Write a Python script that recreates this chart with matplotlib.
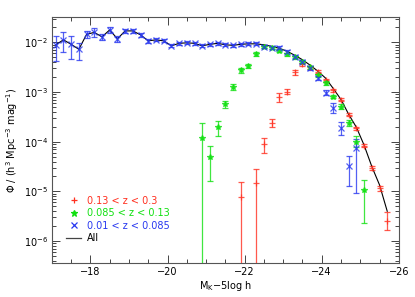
import matplotlib.pyplot as plt
from matplotlib.lines import Line2D
import numpy as np

# bin centres in M_K - 5 log h
mag_blue = np.round(np.arange(-17.1, -24.95, -0.2), 1)
mag_green = np.round(np.arange(-20.9, -25.15, -0.2), 1)
mag_red = [-21.9, -22.3, -22.5, -22.7, -22.9, -23.1, -23.3, -23.5, -23.7,
           -23.9, -24.1, -24.3, -24.5, -24.7, -24.9, -25.1, -25.3, -25.5, -25.7]

# log10(Phi) and errors (dex, up / down)
blue_log = [-2.05, -1.95, -2.04, -2.14, -1.84, -1.80, -1.89, -1.75, -1.93, -1.77,
            -1.77, -1.85, -1.97, -1.95, -1.97, -2.07, -2.02, -2.01, -2.02, -2.07,
            -2.04, -2.02, -2.05, -2.06, -2.04, -2.03, -2.03, -2.09, -2.11, -2.11,
            -2.19, -2.29, -2.39, -2.52, -2.72, -3.01, -3.32, -3.73, -4.49, -4.12]
blue_up = [0.18, 0.16, 0.17, 0.13, 0.07, 0.08, 0.06, 0.06, 0.06, 0.04,
           0.04, 0.04, 0.04, 0.03, 0.03, 0.03, 0.03, 0.03, 0.03, 0.03,
           0.03, 0.03, 0.03, 0.03, 0.03, 0.03, 0.03, 0.03, 0.03, 0.03,
           0.03, 0.03, 0.03, 0.04, 0.04, 0.05, 0.10, 0.13, 0.20, 0.17]
blue_dn = [0.32, 0.24, 0.30, 0.22, 0.08, 0.09, 0.06, 0.06, 0.06, 0.04,
           0.04, 0.04, 0.04, 0.03, 0.03, 0.03, 0.03, 0.03, 0.03, 0.03,
           0.03, 0.03, 0.03, 0.03, 0.03, 0.03, 0.03, 0.03, 0.03, 0.03,
           0.03, 0.03, 0.03, 0.04, 0.04, 0.05, 0.10, 0.14, 0.41, 0.91]

green_log = [-3.93, -4.31, -3.71, -3.25, -2.89, -2.56, -2.47, -2.24, -2.09, -2.11,
             -2.17, -2.24, -2.30, -2.39, -2.50, -2.66, -2.82, -3.09, -3.30, -3.63,
             -4.00, -4.97]
green_up = [0.30, 0.22, 0.13, 0.07, 0.06, 0.05, 0.04, 0.04, 0.03, 0.03,
            0.03, 0.03, 0.03, 0.03, 0.03, 0.03, 0.04, 0.04, 0.05, 0.06,
            0.11, 0.21]
green_dn = [3.0, 0.49, 0.17, 0.07, 0.06, 0.05, 0.04, 0.04, 0.03, 0.03,
            0.03, 0.03, 0.03, 0.03, 0.03, 0.03, 0.04, 0.04, 0.05, 0.06,
            0.10, 0.67]

red_log = [-5.12, -4.83, -4.05, -3.63, -3.11, -2.99, -2.60, -2.44, -2.50,
           -2.59, -2.76, -2.96, -3.16, -3.46, -3.73, -4.08, -4.53, -4.94, -5.59]
red_up = [0.30, 0.29, 0.12, 0.08, 0.10, 0.05, 0.05, 0.03, 0.03,
          0.03, 0.03, 0.03, 0.03, 0.03, 0.03, 0.03, 0.04, 0.05, 0.18]
red_dn = [3.0, 3.0, 0.18, 0.08, 0.10, 0.05, 0.05, 0.03, 0.03,
          0.03, 0.03, 0.03, 0.03, 0.03, 0.03, 0.03, 0.04, 0.05, 0.19]

mag_all = np.round(np.arange(-17.1, -25.75, -0.2), 1)
all_log = [-2.05, -1.95, -2.04, -2.14, -1.84, -1.80, -1.89, -1.75, -1.93, -1.77,
           -1.77, -1.85, -1.97, -1.95, -1.97, -2.07, -2.02, -2.01, -2.02, -2.07,
           -2.04, -2.02, -2.05, -2.06, -2.04, -2.03, -2.03, -2.05, -2.08, -2.12,
           -2.18, -2.26, -2.35, -2.46, -2.58, -2.72, -2.93, -3.15, -3.45, -3.71,
           -4.07, -4.50, -4.87, -5.40]

labels = ['0.13 < z < 0.3', '0.085 < z < 0.13', '0.01 < z < 0.085', 'All']
series = [
    (mag_red, red_log, red_up, red_dn, '#ff3020', '+'),
    (mag_green, green_log, green_up, green_dn, '#10e010', '*'),
    (mag_blue, blue_log, blue_up, blue_dn, '#2838f0', 'x'),
]

fig = plt.figure(figsize=(4.15, 2.97), dpi=100)
ax = fig.add_axes([0.125, 0.1145, 0.836, 0.8283])

ax.plot(mag_all, 10 ** np.array(all_log), color='black', lw=0.8, zorder=2)

for mag, lg, up, dn, col, mk in series:
    lg = np.array(lg)
    y = 10 ** lg
    yerr = [y - 10 ** (lg - np.array(dn)), 10 ** (lg + np.array(up)) - y]
    ax.errorbar(mag, y, yerr=yerr, fmt=mk, color=col, ecolor=col,
                elinewidth=0.9, capsize=2.2, capthick=0.9, ms=4.2, mew=0.9,
                alpha=0.8, zorder=3)

ax.set_yscale('log')
ax.set_xlim(-17, -26)
ax.set_ylim(10 ** -6.44, 10 ** -1.49)
ax.set_xticks([-18, -20, -22, -24, -26])
ax.set_xticklabels(['\u221218', '\u221220', '\u221222', '\u221224', '\u221226'])
ax.set_xticks(np.arange(-17, -26.01, -0.5), minor=True)
ax.set_yticks([1e-6, 1e-5, 1e-4, 1e-3, 1e-2])

ax.tick_params(which='both', direction='in', top=True, right=True,
               labelsize=7, color='#444444', width=0.7)
ax.tick_params(which='major', length=6, pad=3)
ax.tick_params(which='minor', length=3)
for s in ax.spines.values():
    s.set_color('#555555')
    s.set_linewidth(0.8)

ax.set_xlabel('M$_{\\rm K}$\u22125log h', fontsize=7, labelpad=1)
ax.set_ylabel('\u03a6 / (h$^3$ Mpc$^{-3}$ mag$^{-1}$)', fontsize=7)
ax.yaxis.set_label_coords(-0.092, 0.5)

handles = [
    Line2D([], [], ls='none', marker='+', color='#ff3020', ms=5, mew=0.9),
    Line2D([], [], ls='none', marker='*', color='#10e010', ms=5, mew=0.9),
    Line2D([], [], ls='none', marker='x', color='#2838f0', ms=4.5, mew=0.9),
    Line2D([], [], color='#444444', lw=0.9),
]
ax.legend(handles, labels, loc='lower left', bbox_to_anchor=(0.015, 0.045),
          frameon=False, fontsize=7, handlelength=1.6, handletextpad=0.6,
          labelspacing=0.25,
          labelcolor=['#ff3020', '#10e010', '#2838f0', 'black'])

fig.savefig('out.png', dpi=100)
